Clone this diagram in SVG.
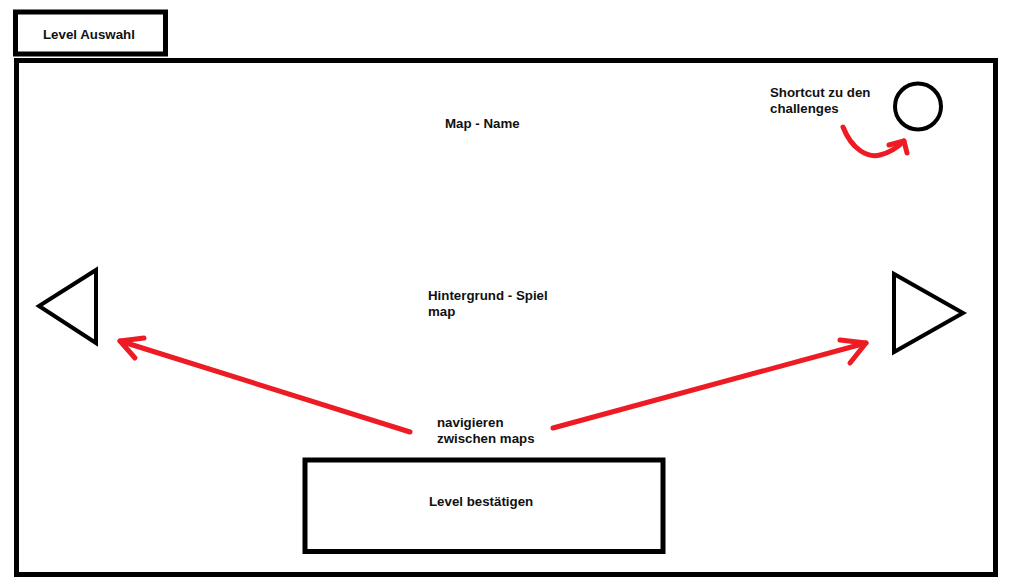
<svg xmlns="http://www.w3.org/2000/svg" width="1009" height="586" viewBox="0 0 1009 586">
<style>
.box{fill:none;stroke:#000;stroke-width:5}
.shape{fill:none;stroke:#000;stroke-width:4;stroke-linejoin:miter}
.red{fill:none;stroke:#ed1c24;stroke-width:5;stroke-linecap:round;stroke-linejoin:round}
text{font-family:"Liberation Sans",Arial,sans-serif;font-weight:bold;font-size:13.3px;fill:#111}
</style>
<rect width="1009" height="586" fill="#fff"/>
<g id="frame"><rect class="box" x="16.5" y="60.5" width="979" height="514"/></g>
<g id="tab"><rect class="box" x="15.5" y="12" width="150" height="42"/><text x="43" y="39">Level Auswahl</text></g>
<g id="map-name"><text x="445" y="128">Map - Name</text></g>
<g id="shortcut"><circle class="shape" cx="918" cy="106.5" r="23"/><text x="770" y="97">Shortcut zu den</text><text x="770" y="113">challenges</text></g>
<g id="background"><text x="428" y="300">Hintergrund - Spiel</text><text x="428" y="316">map</text></g>
<g id="prev"><polygon class="shape" points="96,270 96,343 39,306"/></g>
<g id="next"><polygon class="shape" points="894,274 894,352 963,313"/></g>
<g id="navigate"><text x="437" y="427">navigieren</text><text x="437" y="443">zwischen maps</text></g>
<g id="confirm"><rect class="box" x="305" y="460" width="358" height="91.5"/><text x="429" y="506">Level bestätigen</text></g>
<g id="connectors">
<path class="red" d="M843,127 C852,150 868,158 880,155 C892,152 898,147 904,141"/>
<path class="red" d="M889,145 L904,141 L907,153"/>
<path class="red" d="M410,432 L120,341"/>
<path class="red" d="M144,338 L120,341 L135,358"/>
<path class="red" d="M553,428 L866,343"/>
<path class="red" d="M840,340 L866,343 L850,363"/>
</g>
</svg>
